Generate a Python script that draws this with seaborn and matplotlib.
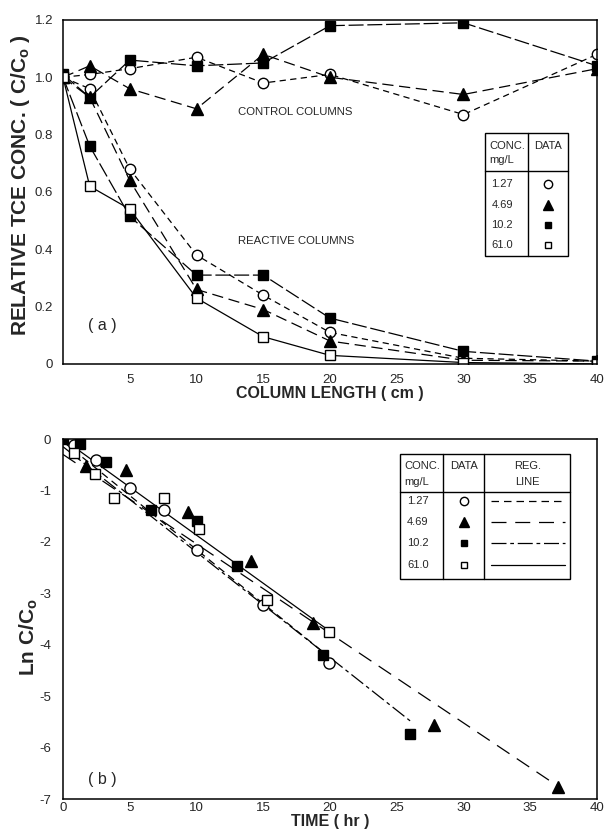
import numpy as np
import pandas as pd
import matplotlib
matplotlib.use("Agg")
import matplotlib.pyplot as plt
import seaborn as sns
from matplotlib.patches import Rectangle

# ---- data ----
length_cm = [0, 2, 5, 10, 15, 20, 30, 40]
conc_labels = ["1.27", "4.69", "10.2", "61.0"]

# control columns (C/Co)
ctrl_127 = [1.00, 1.01, 1.03, 1.07, 0.98, 1.01, 0.87, 1.08]
ctrl_469 = [1.00, 1.04, 0.96, 0.89, 1.08, 1.00, 0.94, 1.03]
ctrl_102 = [1.01, 0.93, 1.06, 1.04, 1.05, 1.18, 1.19, 1.04]
# reactive columns (C/Co)
react_127 = [1.00, 0.96, 0.68, 0.38, 0.24, 0.11, 0.02, 0.01]
react_469 = [1.00, 0.93, 0.64, 0.26, 0.19, 0.08, 0.013, 0.01]
react_102 = [1.00, 0.76, 0.515, 0.31, 0.31, 0.16, 0.044, 0.01]
react_610 = [1.00, 0.62, 0.54, 0.23, 0.095, 0.03, 0.005, 0.0]

# ln C/Co vs time
t_127 = [0.8, 2.5, 5.0, 7.6, 10.0, 15.0, 19.9]
ln_127 = [-0.12, -0.40, -0.96, -1.38, -2.15, -3.22, -4.36]
t_469 = [1.7, 4.7, 9.4, 14.1, 18.7, 27.8, 37.1]
ln_469 = [-0.52, -0.60, -1.41, -2.37, -3.57, -5.57, -6.77]
t_102 = [0.0, 1.3, 3.2, 6.6, 10.0, 13.0, 19.5, 26.0]
ln_102 = [0.0, -0.09, -0.45, -1.38, -1.60, -2.47, -4.20, -5.74]
t_610 = [0.8, 2.4, 3.8, 7.6, 10.2, 15.3, 19.9]
ln_610 = [-0.28, -0.68, -1.15, -1.15, -1.75, -3.13, -3.75]

# regression lines (intercept, slope, end time)
reg_intercept = [-0.05, -0.30, -0.15, 0.0]
reg_slope = [-0.21, -0.174, -0.205, -0.187]
reg_tmax = [19.9, 37.1, 26.0, 19.9]

ytick_a = [0, 0.1, 0.2, 0.3, 0.4, 0.5, 0.6, 0.7, 0.8, 0.9, 1.0, 1.1, 1.2]
ytick_a_lab = ["0", "", "0.2", "", "0.4", "", "0.6", "", "0.8", "", "1.0", "", "1.2"]
xtick_a = [5, 10, 15, 20, 25, 30, 35, 40]
xtick_b = [0, 5, 10, 15, 20, 25, 30, 35, 40]
ytick_b = [-7, -6, -5, -4, -3, -2, -1, 0]

# ---- styles ----
sns.set_style("white")
plt.rcParams["font.family"] = ["Liberation Sans", "DejaVu Sans"]
plt.rcParams["mathtext.fontset"] = "custom"
plt.rcParams["mathtext.rm"] = "Liberation Sans"
plt.rcParams["mathtext.bf"] = "Liberation Sans:bold"
plt.rcParams["axes.unicode_minus"] = False

mk = {"1.27": dict(marker="o", mfc="white", ms=7.5),
      "4.69": dict(marker="^", mfc="black", ms=8.5),
      "10.2": dict(marker="s", mfc="black", ms=6.5),
      "61.0": dict(marker="s", mfc="white", ms=6.5)}
ls_a = {"1.27": (0, (5, 3.5)), "4.69": (0, (9, 4.5)),
        "10.2": (0, (12, 3)), "61.0": "-"}
ls_b = {"1.27": (0, (6, 4)), "4.69": (0, (12, 7)),
        "10.2": (0, (12, 3, 3, 3)), "61.0": "-"}

fig = plt.figure(figsize=(6.07, 8.31), dpi=100)
ax1 = fig.add_axes([0.1038, 0.562, 0.8797, 0.414])
ax2 = fig.add_axes([0.1038, 0.0385, 0.8797, 0.4332])


def series(ax, x, y, key):
    m = mk[key]
    sns.lineplot(x=x, y=y, ax=ax, color="black", lw=0.9, linestyle=ls_a[key],
                 marker=m["marker"], markersize=m["ms"], markerfacecolor=m["mfc"],
                 markeredgecolor="black", markeredgewidth=1.0,
                 sort=False, estimator=None, legend=False)


# panel (a)
series(ax1, length_cm, ctrl_127, "1.27")
series(ax1, length_cm, ctrl_469, "4.69")
series(ax1, length_cm, ctrl_102, "10.2")
series(ax1, length_cm, react_127, "1.27")
series(ax1, length_cm, react_469, "4.69")
series(ax1, length_cm, react_102, "10.2")
series(ax1, length_cm, react_610, "61.0")

ax1.set_xlim(0, 40)
ax1.set_ylim(0, 1.2)
ax1.set_xticks(xtick_a)
ax1.set_yticks(ytick_a)
ax1.set_yticklabels(ytick_a_lab)
ax1.tick_params(axis="both", direction="in", length=7, width=1, labelsize=9.5)
ax1.tick_params(axis="x", pad=7)
ax1.tick_params(axis="y", pad=7)
ax1.set_xlabel("COLUMN LENGTH ( cm )", fontsize=11.5, fontweight="bold", labelpad=0)
ax1.set_ylabel("RELATIVE TCE CONC. ( C/C$_{\\mathbf{o}}$ )", fontsize=15,
               fontweight="bold")
ax1.yaxis.set_label_coords(-0.058, 0.52)
ax1.text(13.1, 0.879, "CONTROL COLUMNS", fontsize=8.2, va="center")
ax1.text(13.1, 0.429, "REACTIVE COLUMNS", fontsize=8.2, va="center")
ax1.text(1.86, 0.133, "( a )", fontsize=11.5, va="center")

# panel (b)
tb = {"1.27": (t_127, ln_127), "4.69": (t_469, ln_469),
      "10.2": (t_102, ln_102), "61.0": (t_610, ln_610)}
for i, key in enumerate(conc_labels):
    xr = np.array([0.0, reg_tmax[i]])
    sns.lineplot(x=xr, y=reg_intercept[i] + reg_slope[i] * xr, ax=ax2,
                 color="black", lw=0.9, linestyle=ls_b[key], legend=False)
for key in conc_labels:
    m = mk[key]
    t, v = tb[key]
    sns.lineplot(x=t, y=v, ax=ax2, color="black", linestyle="",
                 marker=m["marker"], markersize=m["ms"] + 0.5,
                 markerfacecolor=m["mfc"], markeredgecolor="black",
                 markeredgewidth=1.0, sort=False, estimator=None, legend=False)

ax2.set_xlim(0, 40)
ax2.set_ylim(-7, 0)
ax2.set_xticks(xtick_b)
ax2.set_yticks(ytick_b)
ax2.tick_params(axis="x", direction="in", length=7, width=1, labelsize=9.5, pad=2.5)
ax2.tick_params(axis="y", direction="out", length=5, width=1, labelsize=9.5)
ax2.set_xlabel("TIME ( hr )", fontsize=11.5, fontweight="bold", labelpad=0)
ax2.set_ylabel("Ln C/C$_{\\mathbf{o}}$", fontsize=15, fontweight="bold")
ax2.yaxis.set_label_coords(-0.043, 0.45)
ax2.text(1.9, -6.62, "( b )", fontsize=11.5, va="center")

for ax in (ax1, ax2):
    for s in ax.spines.values():
        s.set_linewidth(1.1)
        s.set_color("black")


# ---- legend tables ----
def box(ax, xs, y_top, y_head, y_bot):
    ax.add_patch(Rectangle((xs[0], y_bot), xs[-1] - xs[0], y_top - y_bot,
                           transform=ax.transAxes, fill=False, lw=1, ec="black"))
    ax.plot([xs[0], xs[-1]], [y_head, y_head], transform=ax.transAxes,
            color="black", lw=1)
    for xv in xs[1:-1]:
        ax.plot([xv, xv], [y_bot, y_top], transform=ax.transAxes,
                color="black", lw=1)


fs_tab = 8
xs_a = [0.790, 0.870, 0.946]
box(ax1, xs_a, 0.672, 0.561, 0.314)
ax1.text(0.798, 0.634, "CONC.", transform=ax1.transAxes, fontsize=fs_tab, va="center")
ax1.text(0.798, 0.592, "mg/L", transform=ax1.transAxes, fontsize=fs_tab, va="center")
ax1.text(0.908, 0.634, "DATA", transform=ax1.transAxes, fontsize=fs_tab,
         va="center", ha="center")
rows_a = [0.523, 0.463, 0.404, 0.346]
for key, yy in zip(conc_labels, rows_a):
    m = mk[key]
    ax1.text(0.802, yy, key, transform=ax1.transAxes, fontsize=fs_tab, va="center")
    ax1.plot([0.908], [yy], transform=ax1.transAxes, marker=m["marker"],
             ms=m["ms"] - 1.5, mfc=m["mfc"], mec="black", mew=1, ls="")

xs_b = [0.632, 0.712, 0.789, 0.950]
box(ax2, xs_b, 0.957, 0.853, 0.611)
ax2.text(0.640, 0.926, "CONC.", transform=ax2.transAxes, fontsize=fs_tab, va="center")
ax2.text(0.640, 0.881, "mg/L", transform=ax2.transAxes, fontsize=fs_tab, va="center")
ax2.text(0.7505, 0.926, "DATA", transform=ax2.transAxes, fontsize=fs_tab,
         va="center", ha="center")
ax2.text(0.8695, 0.926, "REG.", transform=ax2.transAxes, fontsize=fs_tab,
         va="center", ha="center")
ax2.text(0.8695, 0.881, "LINE", transform=ax2.transAxes, fontsize=fs_tab,
         va="center", ha="center")
rows_b = [0.828, 0.769, 0.710, 0.651]
for key, yy in zip(conc_labels, rows_b):
    m = mk[key]
    ax2.text(0.644, yy, key, transform=ax2.transAxes, fontsize=fs_tab, va="center")
    ax2.plot([0.7505], [yy], transform=ax2.transAxes, marker=m["marker"],
             ms=m["ms"] - 1.5, mfc=m["mfc"], mec="black", mew=1, ls="")
    ax2.plot([0.802, 0.940], [yy, yy], transform=ax2.transAxes, color="black",
             lw=0.9, linestyle=ls_b[key])

fig.savefig("out.png", dpi=100)
